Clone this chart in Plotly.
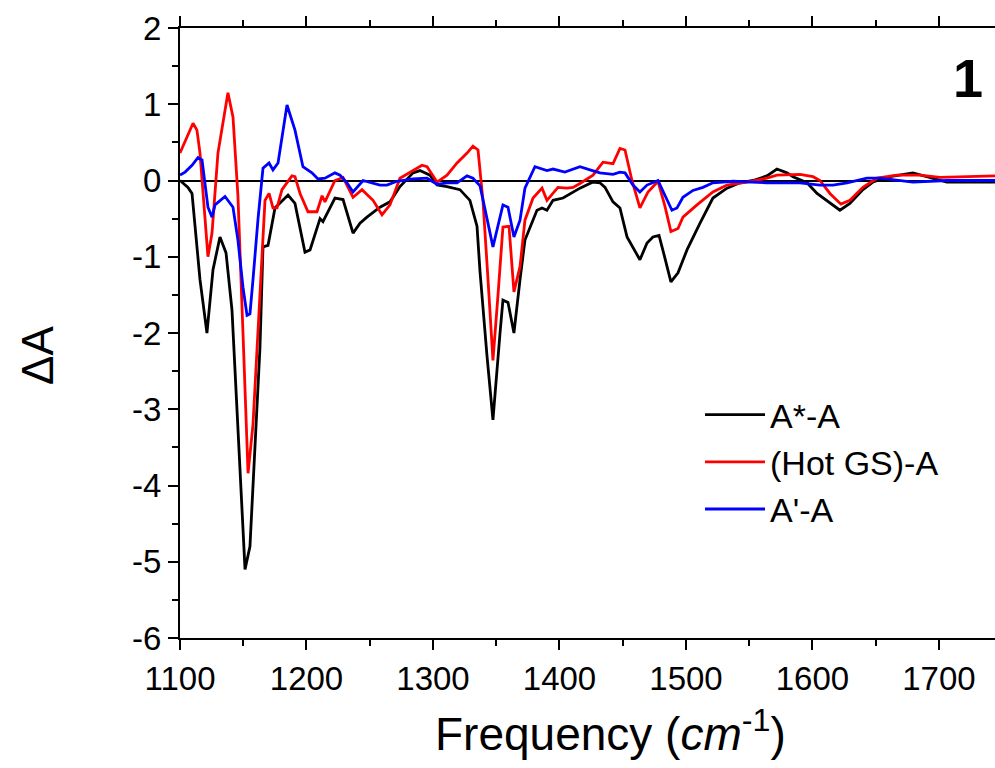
import plotly.graph_objects as go

# ---- data (frequency in cm^-1, delta A) ----
black_x = [1100, 1106.3, 1109.5, 1115.8, 1121.3, 1126.1, 1131.6, 1136.4, 1141.1, 1145.8,
           1151.4, 1155.3, 1159.3, 1163.2, 1165.6, 1169.6, 1175.1, 1185.4, 1190.9, 1198.8,
           1202.8, 1210.7, 1213.0, 1222.5, 1228.9, 1236.8, 1242.3, 1247.8, 1258.1, 1266.0,
           1273.9, 1284.2, 1289.7, 1297.6, 1303.2, 1311.1, 1321.3, 1329.2, 1334.8, 1337.2,
           1342.7, 1347.4, 1353.0, 1355.3, 1359.3, 1364.0, 1368.8, 1372.7, 1382.2, 1386.2,
           1390.1, 1394.9, 1402.8, 1410.7, 1416.2, 1426.5, 1432.0, 1436.0, 1442.3, 1447.8,
           1453.4, 1463.6, 1469.2, 1473.9, 1478.7, 1483.4, 1488.1, 1493.7, 1500.8, 1511.1,
           1521.3, 1532.4, 1542.7, 1553.0, 1564.0, 1571.9, 1579.8, 1584.6, 1595.7, 1603.6,
           1613.8, 1621.7, 1629.6, 1639.9, 1647.8, 1661.3, 1679.4, 1690.5, 1706.3, 1744.3]
black_y = [0.0, -0.09, -0.17, -1.3, -2.0, -1.17, -0.74, -0.95, -1.7, -3.2,
           -5.1, -4.8, -3.5, -2.2, -0.87, -0.85, -0.36, -0.19, -0.3, -0.94,
           -0.91, -0.5, -0.54, -0.23, -0.25, -0.69, -0.56, -0.48, -0.35, -0.28,
           -0.08, 0.1, 0.13, 0.07, -0.06, -0.08, -0.12, -0.26, -0.6, -1.2,
           -2.3, -3.14, -2.0, -1.57, -1.6, -2.0, -1.3, -0.78, -0.39, -0.36,
           -0.39, -0.26, -0.23, -0.15, -0.1, -0.02, -0.03, -0.09, -0.28, -0.36,
           -0.74, -1.04, -0.82, -0.74, -0.72, -1.02, -1.33, -1.21, -0.91, -0.56,
           -0.23, -0.1, -0.03, 0.0, 0.06, 0.15, 0.1, 0.05, -0.03, -0.17,
           -0.3, -0.39, -0.3, -0.12, -0.02, 0.05, 0.1, 0.05, -0.02, -0.02]

red_x = [1100, 1110.3, 1113.4, 1115.8, 1122.1, 1125.3, 1130.0, 1137.9, 1141.9, 1145.8,
         1149.8, 1153.8, 1157.7, 1161.7, 1164.8, 1167.2, 1170.4, 1173.5, 1176.7, 1180.6,
         1188.5, 1190.9, 1194.9, 1201.2, 1208.3, 1212.3, 1214.6, 1222.5, 1228.9, 1236.8,
         1243.9, 1252.6, 1259.7, 1266.0, 1273.9, 1281.8, 1291.3, 1295.3, 1303.2, 1311.1,
         1319.0, 1326.9, 1331.6, 1335.6, 1339.5, 1343.5, 1347.4, 1351.4, 1355.3, 1360.1,
         1364.0, 1368.8, 1372.7, 1379.1, 1386.2, 1390.1, 1394.9, 1398.8, 1405.9, 1410.7,
         1416.2, 1426.5, 1434.4, 1442.3, 1447.8, 1451.8, 1457.3, 1463.6, 1470.0, 1477.9,
         1483.4, 1488.1, 1493.7, 1497.6, 1508.7, 1521.3, 1532.4, 1548.2, 1564.0, 1571.9,
         1590.1, 1600.4, 1605.9, 1613.8, 1622.5, 1629.6, 1639.9, 1651.0, 1666.8, 1685.0,
         1700.8, 1744.3]
red_y = [0.36, 0.75, 0.66, 0.36, -1.0, -0.69, 0.36, 1.15, 0.83, -0.2,
         -2.0, -3.84, -3.2, -1.9, -1.0, -0.26, -0.17, -0.36, -0.36, -0.12,
         0.06, 0.05, -0.17, -0.41, -0.41, -0.2, -0.28, 0.0, 0.04, -0.22,
         -0.12, -0.26, -0.45, -0.32, 0.03, 0.11, 0.2, 0.18, -0.02, 0.07,
         0.23, 0.36, 0.45, 0.4, -0.26, -1.3, -2.36, -1.5, -0.61, -0.6,
         -1.46, -1.13, -0.52, -0.23, -0.1, -0.26, -0.17, -0.09, -0.1, -0.09,
         -0.04, 0.07, 0.24, 0.22, 0.42, 0.4, 0.0, -0.36, -0.15, -0.01,
         -0.34, -0.67, -0.63, -0.48, -0.32, -0.15, -0.06, -0.02, 0.03, 0.07,
         0.08, 0.05, 0.0, -0.17, -0.31, -0.26, -0.09, 0.03, 0.07, 0.07,
         0.04, 0.06]

blue_x = [1100, 1104.0, 1109.5, 1114.2, 1117.4, 1122.1, 1125.3, 1127.7, 1135.6, 1141.9,
          1145.8, 1149.8, 1153.0, 1155.3, 1157.7, 1161.7, 1165.6, 1170.4, 1173.5, 1177.5,
          1184.6, 1190.9, 1197.2, 1204.3, 1209.1, 1214.6, 1222.5, 1226.5, 1232.0, 1236.8,
          1244.7, 1252.6, 1258.1, 1263.6, 1271.5, 1284.2, 1295.3, 1303.2, 1311.1, 1319.0,
          1326.9, 1331.6, 1337.2, 1342.7, 1347.4, 1355.3, 1359.3, 1364.0, 1368.8, 1372.7,
          1380.6, 1390.1, 1394.9, 1404.3, 1416.2, 1424.1, 1432.0, 1442.3, 1447.8, 1451.8,
          1458.1, 1463.6, 1469.2, 1477.9, 1488.9, 1492.9, 1497.6, 1505.5, 1513.4, 1521.3,
          1537.2, 1564.0, 1590.1, 1605.9, 1616.2, 1627.3, 1643.1, 1653.4, 1679.4, 1706.3,
          1744.3]
blue_y = [0.07, 0.11, 0.2, 0.3, 0.27, -0.35, -0.48, -0.32, -0.21, -0.35,
          -0.78, -1.4, -1.77, -1.75, -1.3, -0.5, 0.16, 0.23, 0.14, 0.23,
          0.99, 0.66, 0.18, 0.1, 0.02, 0.03, 0.1, 0.07, -0.03, -0.15,
          0.0, -0.03, -0.06, -0.06, -0.01, 0.02, 0.03, -0.05, -0.03, -0.03,
          0.06, 0.03, -0.07, -0.5, -0.87, -0.32, -0.35, -0.74, -0.52, -0.1,
          0.18, 0.13, 0.15, 0.11, 0.18, 0.14, 0.1, 0.08, 0.11, 0.1,
          -0.06, -0.15, -0.06, 0.0, -0.39, -0.36, -0.22, -0.13, -0.09, -0.03,
          -0.01, -0.03, -0.03, -0.06, -0.06, -0.03, 0.03, 0.03, -0.02, 0.0,
          0.0]

series_names = ["A*-A", "(Hot GS)-A", "A'-A"]
series_colors = ["#000000", "#ff0000", "#0000ff"]

x_ticks = [1100, 1200, 1300, 1400, 1500, 1600, 1700]
y_ticks = [-6, -5, -4, -3, -2, -1, 0, 1, 2]

FONT = "Liberation Sans, Arial, sans-serif"

fig = go.Figure()
for i, (xs, ys) in enumerate([(black_x, black_y), (red_x, red_y), (blue_x, blue_y)]):
    fig.add_trace(go.Scatter(
        x=xs, y=ys, mode="lines", name=series_names[i],
        legendgroup=f"g{i}",
        line=dict(color=series_colors[i], width=2.8),
    ))

# plot area: x 180..995 px, y 28..638 px
def px_x(p):
    return (p - 180) / 815.0

def px_y(p):
    return (638 - p) / 610.0

fig.update_layout(
    width=995, height=768,
    margin=dict(l=180, r=0, t=28, b=130),
    paper_bgcolor="white", plot_bgcolor="white",
    font=dict(family=FONT, color="black"),
    showlegend=True,
    legend=dict(
        x=px_x(700), y=px_y(386), xanchor="left", yanchor="top",
        font=dict(family=FONT, size=34, color="black"),
        bgcolor="rgba(0,0,0,0)", borderwidth=0,
        tracegroupgap=0, traceorder="grouped",
        itemwidth=60,
    ),
    annotations=[
        dict(x=px_x(968), y=px_y(78), xref="paper", yref="paper",
             xanchor="center", yanchor="middle",
             text="<b>1</b>", showarrow=False,
             font=dict(family=FONT, size=54, color="black")),
        dict(x=px_x(610), y=px_y(731), xref="paper", yref="paper",
             xanchor="center", yanchor="middle",
             text="Frequency (<i>cm</i><sup>-1</sup>)", showarrow=False,
             font=dict(family=FONT, size=46, color="black")),
        dict(x=px_x(37), y=px_y(356), xref="paper", yref="paper",
             xanchor="center", yanchor="middle", textangle=-90,
             text="ΔA", showarrow=False,
             font=dict(family=FONT, size=44, color="black")),
    ],
)

fig.update_xaxes(
    range=[1100, 1744.3],
    tickmode="array", tickvals=x_ticks, ticktext=[str(v) for v in x_ticks],
    ticks="outside", ticklen=10, tickwidth=2, tickcolor="black",
    minor=dict(dtick=50, tick0=1100, ticks="outside", ticklen=6, tickwidth=2, tickcolor="black"),
    showline=True, linecolor="black", linewidth=2, mirror="ticks",
    showgrid=False, zeroline=False,
    tickfont=dict(family=FONT, size=33, color="black"),
)
fig.update_yaxes(
    range=[-6, 2],
    tickmode="array", tickvals=y_ticks, ticktext=[str(v) for v in y_ticks],
    ticks="outside", ticklen=10, tickwidth=2, tickcolor="black",
    minor=dict(dtick=0.5, tick0=0, ticks="outside", ticklen=6, tickwidth=2, tickcolor="black"),
    showline=True, linecolor="black", linewidth=2,
    showgrid=False,
    zeroline=True, zerolinecolor="black", zerolinewidth=2,
    tickfont=dict(family=FONT, size=33, color="black"),
)

fig.write_html("out.html")
